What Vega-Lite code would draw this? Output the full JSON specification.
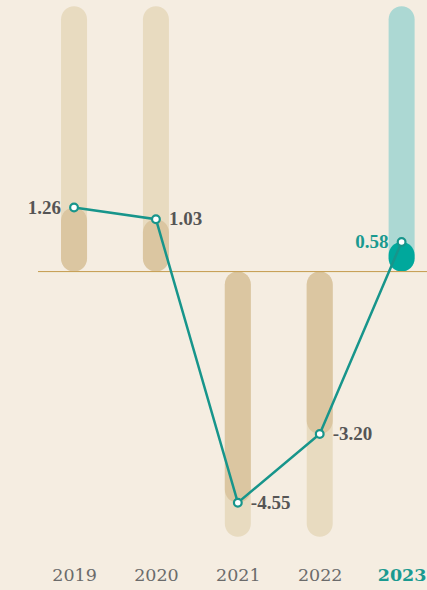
{
  "$schema": "https://vega.github.io/schema/vega-lite/v6.json",
  "width": 389,
  "height": 556,
  "autosize": "none",
  "padding": {"left": 38, "top": 0, "right": 0, "bottom": 34},
  "background": "#f5ede1",
  "config": {"view": {"stroke": null}},
  "data": {"values": [
    {"year": 2019, "value": 1.26, "label": "1.26", "bg": 5.22},
    {"year": 2020, "value": 1.03, "label": "1.03", "bg": 5.22},
    {"year": 2021, "value": -4.55, "label": "-4.55", "bg": -5.22},
    {"year": 2022, "value": -3.2, "label": "-3.20", "bg": -5.22},
    {"year": 2023, "value": 0.58, "label": "0.58", "bg": 5.22}
  ]},
  "encoding": {
    "x": {"field": "year", "type": "quantitative",
      "scale": {"domain": [2018.56, 2023.31], "nice": false, "zero": false, "padding": 0},
      "axis": {"values": [2019, 2020, 2021, 2022, 2023], "format": "d", "title": null,
        "domain": false, "ticks": false, "grid": false, "labelPadding": 10,
        "labelFont": "DejaVu Serif", "labelFontSize": 17.5,
        "labelColor": {"condition": {"test": "datum.value == 2023", "value": "#1a9a90"}, "value": "#6b6b6b"},
        "labelFontWeight": {"condition": {"test": "datum.value == 2023", "value": "bold"}, "value": "normal"}}}
  },
  "layer": [
    {
      "mark": {"type": "bar", "width": 26, "cornerRadius": 13},
      "encoding": {
        "y": {"field": "bg", "type": "quantitative", "scale": {"domain": [-5.6, 5.345], "nice": false}, "axis": null},
        "y2": {"datum": 0},
        "color": {"condition": {"test": "datum.year == 2023", "value": "#acd8d3"}, "value": "#e8dbc0"}
      }
    },
    {
      "mark": {"type": "bar", "width": 26, "cornerRadius": 13},
      "encoding": {
        "y": {"field": "value", "type": "quantitative"},
        "y2": {"datum": 0},
        "color": {"condition": {"test": "datum.year == 2023", "value": "#00a89c"}, "value": "#dbc6a1"}
      }
    },
    {
      "mark": {"type": "rule", "color": "#c9a15a", "strokeWidth": 1},
      "encoding": {"y": {"datum": 0}, "x": null}
    },
    {
      "mark": {"type": "line", "color": "#17958b", "strokeWidth": 2.5},
      "encoding": {"y": {"field": "value", "type": "quantitative"}}
    },
    {
      "mark": {"type": "point", "filled": true, "fill": "white", "stroke": "#17958b", "strokeWidth": 2.2, "size": 60, "opacity": 1},
      "encoding": {"y": {"field": "value", "type": "quantitative"}}
    },
    {
      "transform": [{"filter": "datum.year == 2019 || datum.year == 2023"}],
      "mark": {"type": "text", "align": "right", "dx": -13, "font": "Liberation Serif", "fontWeight": "bold", "fontSize": 19, "baseline": "middle"},
      "encoding": {
        "y": {"field": "value", "type": "quantitative"},
        "text": {"field": "label"},
        "color": {"condition": {"test": "datum.year == 2023", "value": "#1a9a90"}, "value": "#555555"}
      }
    },
    {
      "transform": [{"filter": "datum.year >= 2020 && datum.year <= 2022"}],
      "mark": {"type": "text", "align": "left", "dx": 13, "font": "Liberation Serif", "fontWeight": "bold", "fontSize": 19, "baseline": "middle", "color": "#555555"},
      "encoding": {
        "y": {"field": "value", "type": "quantitative"},
        "text": {"field": "label"}
      }
    }
  ]
}
